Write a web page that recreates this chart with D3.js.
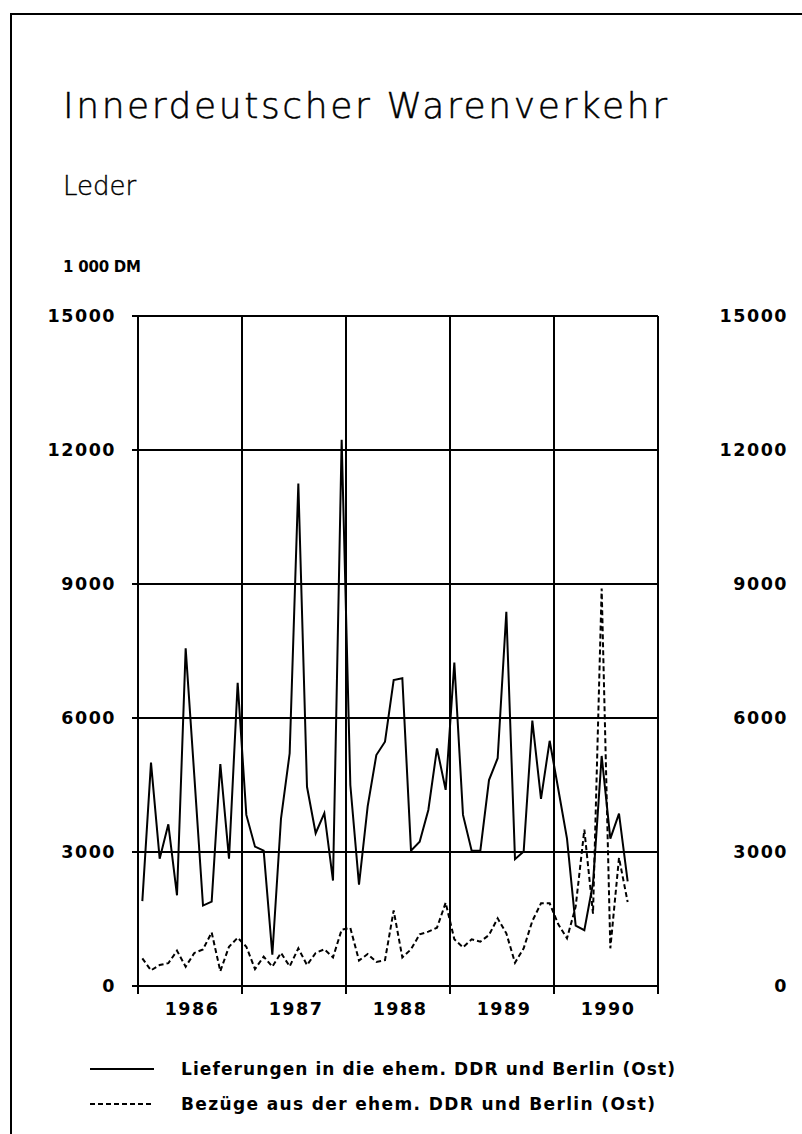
<!DOCTYPE html>
<html>
<head>
<meta charset="utf-8">
<script src="https://cdn.jsdelivr.net/npm/d3@7"></script>
<style>
  html, body { margin: 0; padding: 0; background: #fff; }
  svg { display: block; }
  text { fill: #000; }
</style>
</head>
<body>
<div class="chart-container"></div>
<script>
//! DATA
const title = 'Innerdeutscher Warenverkehr';
const subtitle = 'Leder';
const unitLabel = '1 000 DM';
const years = ['1986', '1987', '1988', '1989', '1990'];
const yTicks = [0, 3000, 6000, 9000, 12000, 15000];
const legendLabels = [
  'Lieferungen in die ehem. DDR und Berlin (Ost)',
  'Bezüge aus der ehem. DDR und Berlin (Ost)'
];
// monthly values, Jan 1986 - Sep 1990 (1 000 DM)
const lieferungen = [
  1900, 5000, 2850, 3620, 2030, 7560, 4700, 1800, 1890, 4970, 2850, 6790,
  3830, 3120, 3030, 700, 3750, 5210, 11250, 4460, 3420, 3870, 2360, 12230,
  4500, 2270, 4020, 5170, 5470, 6850, 6890, 3030, 3230, 3940, 5320, 4390,
  7240, 3830, 3030, 3030, 4610, 5100, 8380, 2840, 3010, 5940, 4190, 5490,
  4400, 3300, 1350, 1250, 2300, 5150, 3300, 3860, 2340
];
const bezuege = [
  620, 350, 470, 510, 790, 433, 740, 820, 1200, 330, 880, 1080,
  880, 380, 657, 433, 740, 440, 843, 470, 740, 821, 640, 1260,
  1300, 570, 716, 540, 580, 1690, 640, 821, 1157, 1216, 1306, 1865,
  1045, 866, 1045, 992, 1142, 1515, 1179, 522, 843, 1455, 1851, 1851,
  1380, 1067, 1776, 3500, 1620, 8900, 843, 2870, 1880
];

//! CONSTS
const width = 802;
const height = 1134;
const plotLeft = 138, plotRight = 658, plotTop = 316, plotBottom = 986;
const font = "'DejaVu Sans', sans-serif";

const svg = d3.select('.chart-container')
  .append('svg')
  .attr('width', width)
  .attr('height', height);

// frame (top + left edge only, rest is cut off)
svg.append('path')
  .attr('d', `M11,${height} V14 H${width}`)
  .attr('fill', 'none')
  .attr('stroke', '#000')
  .attr('stroke-width', 2);

//! TITLES
svg.append('text')
  .attr('x', 63).attr('y', 118)
  .attr('font-family', font)
  .attr('font-weight', 200)
  .attr('font-size', 36)
  .attr('stroke', '#000')
  .attr('stroke-width', 0.5)
  .attr('textLength', 604)
  .attr('lengthAdjust', 'spacing')
  .text(title);

svg.append('text')
  .attr('x', 63).attr('y', 195)
  .attr('font-family', font)
  .attr('font-weight', 200)
  .attr('font-size', 26)
  .attr('stroke', '#000')
  .attr('stroke-width', 0.4)
  .text(subtitle);

svg.append('text')
  .attr('x', 63).attr('y', 272)
  .attr('font-family', font)
  .attr('font-weight', 'bold')
  .attr('font-size', 15)
  .attr('textLength', 78)
  .attr('lengthAdjust', 'spacing')
  .text(unitLabel);

//! SCALES
const nMonths = years.length * 12;
const xScale = d3.scaleLinear().domain([0, nMonths]).range([plotLeft, plotRight]);
const yScale = d3.scaleLinear().domain([0, 15000]).range([plotBottom, plotTop]);

//! GRID
const grid = svg.append('g').attr('stroke', '#000').attr('stroke-width', 2);

grid.selectAll('.hline')
  .data(yTicks)
  .enter()
  .append('line')
  .attr('x1', plotLeft - 6)
  .attr('x2', plotRight)
  .attr('y1', d => yScale(d))
  .attr('y2', d => yScale(d));

grid.selectAll('.vline')
  .data(d3.range(0, years.length + 1))
  .enter()
  .append('line')
  .attr('x1', i => xScale(i * 12))
  .attr('x2', i => xScale(i * 12))
  .attr('y1', plotTop)
  .attr('y2', plotBottom + 8);

//! AXIS LABELS
const tickText = (sel) => sel
  .attr('font-family', font)
  .attr('font-weight', 'bold')
  .attr('font-size', 17.5)
  .attr('letter-spacing', 1.5)
  .attr('dominant-baseline', 'central');

svg.selectAll('.ylab-l')
  .data(yTicks)
  .enter()
  .append('text')
  .attr('x', 116)
  .attr('y', d => yScale(d))
  .attr('text-anchor', 'end')
  .call(tickText)
  .text(d => d);

svg.selectAll('.ylab-r')
  .data(yTicks)
  .enter()
  .append('text')
  .attr('x', 788)
  .attr('y', d => yScale(d))
  .attr('text-anchor', 'end')
  .call(tickText)
  .text(d => d);

svg.selectAll('.xlab')
  .data(years)
  .enter()
  .append('text')
  .attr('x', (d, i) => xScale(i * 12 + 6) + 2)
  .attr('y', 1009)
  .attr('text-anchor', 'middle')
  .call(tickText)
  .text(d => d);

//! LINES
const line = d3.line()
  .x((d, i) => xScale(i + 0.5))
  .y(d => yScale(d));

svg.append('path')
  .datum(bezuege)
  .attr('d', line)
  .attr('fill', 'none')
  .attr('stroke', '#000')
  .attr('stroke-width', 2)
  .attr('stroke-dasharray', '5,3');

svg.append('path')
  .datum(lieferungen)
  .attr('d', line)
  .attr('fill', 'none')
  .attr('stroke', '#000')
  .attr('stroke-width', 2)
  .attr('stroke-linejoin', 'miter');

//! LEGEND
const legend = svg.selectAll('.legend')
  .data(legendLabels)
  .enter()
  .append('g')
  .attr('transform', (d, i) => `translate(0, ${1069 + i * 35})`);

legend.append('line')
  .attr('x1', 90).attr('x2', 154)
  .attr('stroke', '#000')
  .attr('stroke-width', 2)
  .attr('stroke-dasharray', (d, i) => i ? '5,3' : null);

legend.append('text')
  .attr('x', 181)
  .attr('y', 0)
  .attr('font-family', font)
  .attr('font-weight', 'bold')
  .attr('font-size', 17)
  .attr('dominant-baseline', 'central')
  .attr('textLength', (d, i) => i ? 474 : 494)
  .attr('lengthAdjust', 'spacing')
  .text(d => d);
</script>
</body>
</html>
